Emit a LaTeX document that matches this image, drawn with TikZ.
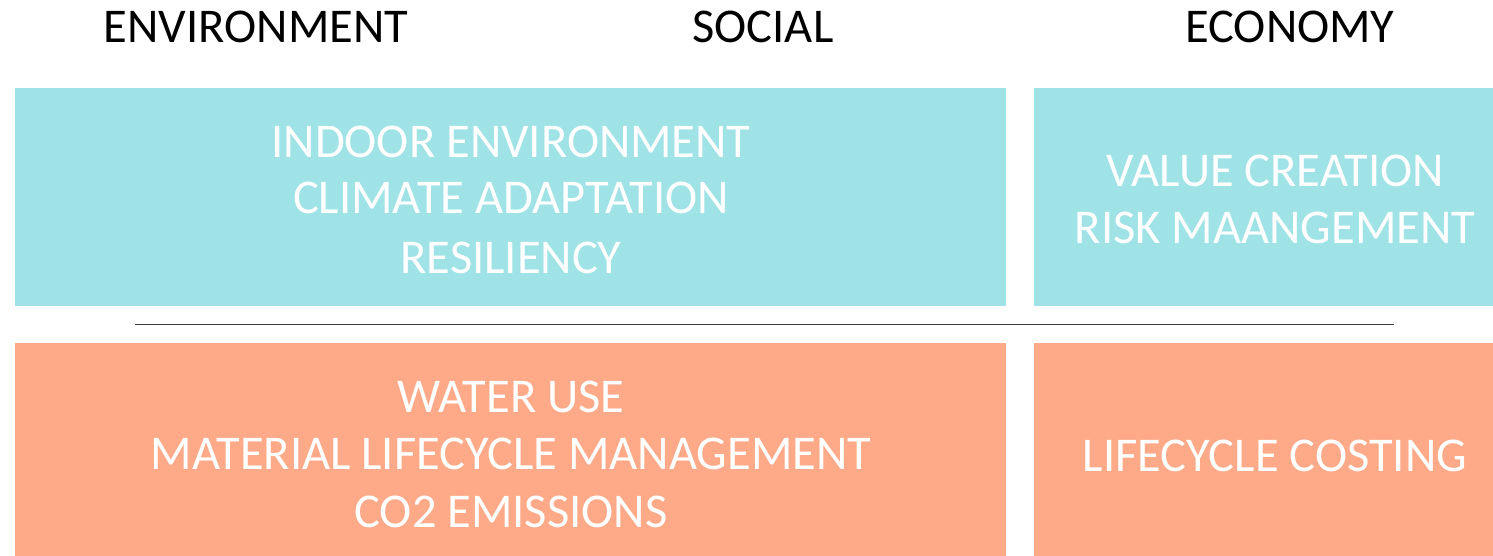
\documentclass[tikz,border=0pt]{standalone}
\usepackage{fontspec}
\setmainfont{Carlito}
\definecolor{cyanbox}{HTML}{A0E3E6}
\definecolor{orangebox}{HTML}{FEAA89}
\definecolor{rulegray}{HTML}{3A3A3A}
\begin{document}
\begin{tikzpicture}[x=1pt,y=-1pt,
  box/.style={draw=none,inner sep=0pt,outer sep=0pt,anchor=north west},
  head/.style={anchor=base,inner sep=0pt,text=black,font=\fontsize{48.5}{58}\selectfont},
  inbox/.style={anchor=base,inner sep=0pt,text=white,font=\fontsize{48.5}{58}\selectfont}]
\useasboundingbox (0,0) rectangle (1493,556);
% boxes
\node[box,fill=cyanbox,minimum width=991pt,minimum height=218pt] (tl) at (15,88) {};
\node[box,fill=cyanbox,minimum width=459pt,minimum height=218pt] (tr) at (1034,88) {};
\node[box,fill=orangebox,minimum width=991pt,minimum height=213pt] (bl) at (15,343) {};
\node[box,fill=orangebox,minimum width=459pt,minimum height=213pt] (br) at (1034,343) {};
% rule
\coordinate (ra) at (135,324.5);
\coordinate (rb) at (1394,324.5);
\draw[rulegray,line width=1.5pt] (ra) -- (rb);
% headings
\node[head] (h1) at (256,43) {ENVIRONMENT};
\node[head] (h2) at (763,43) {SOCIAL};
\node[head] (h3) at (1290,43) {ECONOMY};
% top left text
\node[inbox] (t1) at (511,158) {INDOOR ENVIRONMENT};
\node[inbox] (t2) at (511,214) {CLIMATE ADAPTATION};
\node[inbox] (t3) at (511,273) {RESILIENCY};
% top right text
\node[inbox] (t4) at (1275,187) {VALUE CREATION};
\node[inbox] (t5) at (1275,243) {RISK MAANGEMENT};
% bottom left text
\node[inbox] (b1) at (511,412) {WATER USE};
\node[inbox] (b2) at (511,469) {MATERIAL LIFECYCLE MANAGEMENT};
\node[inbox] (b3) at (511,527) {CO2 EMISSIONS};
% bottom right text
\node[inbox] (b4) at (1275,471) {LIFECYCLE COSTING};
\end{tikzpicture}
\end{document}
